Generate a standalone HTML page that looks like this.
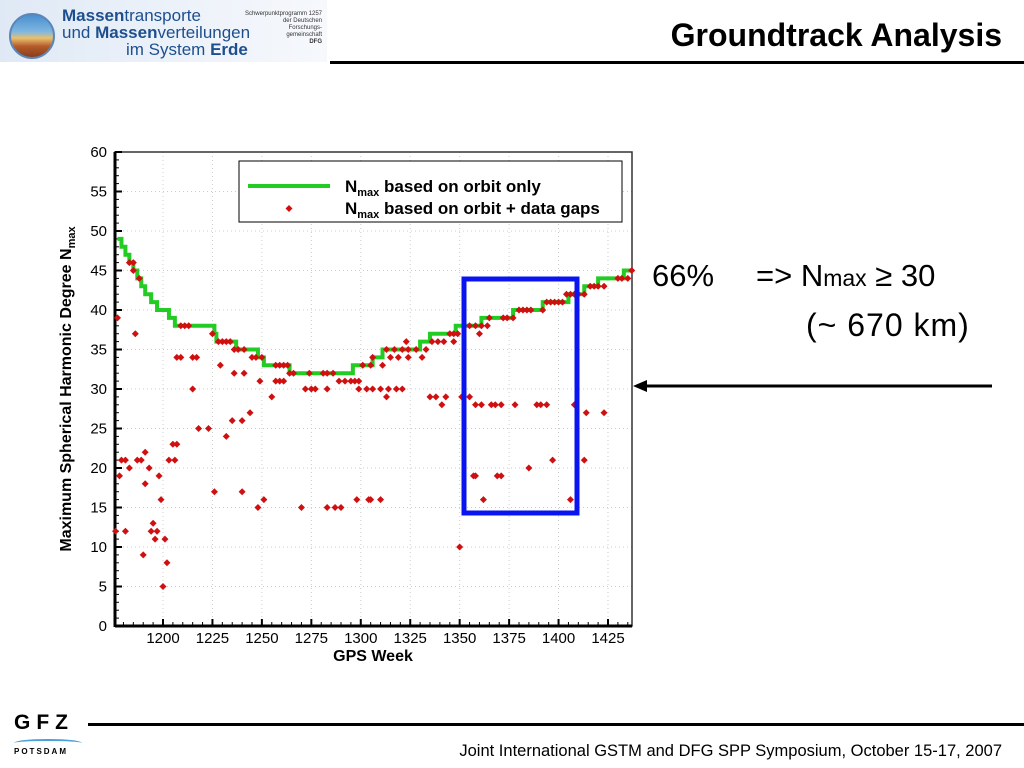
<!DOCTYPE html>
<html><head><meta charset="utf-8">
<style>
html,body{margin:0;padding:0;background:#fff;}
body{width:1024px;height:768px;position:relative;overflow:hidden;font-family:"Liberation Sans",sans-serif;}
.abs{position:absolute;}
</style></head>
<body>
<div class="abs" style="left:0;top:0;width:327px;height:62px;background:linear-gradient(90deg,#dfe9f5,#eef3fa 60%,#f6f8fc);">
  <div class="abs" style="left:9px;top:13px;width:42px;height:42px;border-radius:50%;background:linear-gradient(180deg,#4a8fcf 0%,#7fb7e0 40%,#e8c070 55%,#b35a2a 75%,#8a3e1c 100%);border:2px solid #5b86b8;"></div>
  <div class="abs" style="left:62px;top:7px;font-size:17px;line-height:17px;color:#1d4f8f;white-space:nowrap;">
    <div><b>Massen</b>transporte</div>
    <div>und <b>Massen</b>verteilungen</div>
    <div style="padding-left:64px">im System <b>Erde</b></div>
  </div>
  <div class="abs" style="left:240px;top:11px;width:82px;font-size:6px;line-height:7px;text-align:right;color:#333;">Schwerpunktprogramm 1257<br>der Deutschen<br>Forschungs-<br>gemeinschaft<br><b>DFG</b></div>
</div>
<div class="abs" style="right:22px;top:17px;font-size:32px;font-weight:bold;color:#000;white-space:nowrap;">Groundtrack Analysis</div>
<div class="abs" style="left:330px;top:61px;width:694px;height:3px;background:#000;"></div>

<svg class="abs" id="chart" style="left:0;top:0" width="1024" height="768"></svg>

<div class="abs" style="left:652px;top:258px;font-size:31px;color:#000;white-space:nowrap;">66%</div>
<div class="abs" style="left:756px;top:258px;font-size:31px;color:#000;white-space:nowrap;">=&gt; N<span style="font-size:23px">max</span> ≥ 30</div>
<div class="abs" style="left:806px;top:307px;font-size:32px;color:#000;white-space:nowrap;letter-spacing:1px;">(~ 670 km)</div>

<div class="abs" style="left:14px;top:712px;width:75px;height:50px;">
  <div style="font-size:21px;font-weight:bold;letter-spacing:6px;line-height:22px;">GFZ</div>
  <div style="margin-top:5px;width:68px;height:6px;border-top:2px solid #4aa0d8;border-radius:50% 50% 0 0;"></div>
  <div style="font-size:8px;font-weight:bold;letter-spacing:2px;">POTSDAM</div>
</div>
<div class="abs" style="left:88px;top:723px;width:936px;height:3px;background:#000;"></div>
<div class="abs" style="right:22px;top:742px;font-size:16.5px;color:#000;white-space:nowrap;">Joint International GSTM and DFG SPP Symposium, October 15-17, 2007</div>

<script>
const yTicks=[0,5,10,15,20,25,30,35,40,45,50,55,60];
const xTicks=[1200,1225,1250,1275,1300,1325,1350,1375,1400,1425];
const orbitWeeks=[1177,1179,1181,1183,1185,1187,1189,1191,1194,1197,1203,1206,1226,1227,1237,1248,1251,1264,1296,1306,1311,1330,1335,1348,1361,1377,1392,1405,1413,1420,1433,1437];
const orbitNmax=[49,48,47,46,45,44,43,42,41,40,39,38,37,36,35,34,33,32,33,34,35,36,37,38,39,40,41,42,43,44,45,45];
const gapWeeks=[1177,1186,1183,1185,1185,1188,1209,1211,1213,1225,1228,1230,1232,1234,1236,1238,1241,1245,1247,1250,1229,1236,1241,1257,1259,1261,1263,1257,1259,1261,1264,1266,1274,1281,1283,1286,1272,1275,1277,1283,1289,1292,1295,1297,1299,1301,1306,1299,1303,1255,1249,1207,1209,1215,1217,1215,1244,1235,1240,1232,1218,1223,1205,1207,1203,1206,1179,1181,1187,1189,1191,1183,1193,1178,1191,1198,1199,1226,1240,1248,1251,1270,1283,1287,1290,1298,1304,1176,1181,1195,1194,1197,1196,1201,1190,1202,1200,
1305,1311,1313,1317,1321,1324,1328,1333,1315,1319,1324,1331,1323,1336,1339,1342,1347,1345,1347,1349,1355,1358,1361,1364,1360,1365,1372,1374,1377,1380,1382,1384,1386,1392,1394,1396,1398,1400,1402,1404,1406,1408,1410,1413,1416,1418,1420,1423,1430,1432,1435,1437,
1306,1310,1314,1318,1321,1313,1335,1338,1343,1341,1351,1355,1358,1361,1366,1368,1371,1378,1389,1391,1394,1408,1414,1423,1357,1358,1369,1371,1385,1397,1413,1362,1406,1305,1310,1350];
const gapNmax=[39,37,46,46,45,44,38,38,38,37,36,36,36,36,35,35,35,34,34,34,33,32,32,33,33,33,33,31,31,31,32,32,32,32,32,32,30,30,30,30,31,31,31,31,31,33,34,30,30,29,31,34,34,34,34,30,27,26,26,24,25,25,23,23,21,21,21,21,21,21,22,20,20,19,18,19,16,17,17,15,16,15,15,15,15,16,16,12,12,13,12,12,11,11,9,8,5,
33,33,35,35,35,35,35,35,34,34,34,34,36,36,36,36,36,37,37,37,38,38,38,38,37,39,39,39,39,40,40,40,40,40,41,41,41,41,41,42,42,42,42,42,43,43,43,43,44,44,44,45,
30,30,30,30,30,29,29,29,29,28,29,29,28,28,28,28,28,28,28,28,28,28,27,27,19,19,19,19,20,21,21,16,16,16,16,10];

const svg=document.getElementById('chart');
const NS='http://www.w3.org/2000/svg';
const X0=115,X1=632,Y0=626,Y1=152;
function xs(w){return 163+(w-1200)*(445/225);}
function ys(v){return Y0-(v)*(Y0-Y1)/60;}
function mk(tag,attrs,parent){const e=document.createElementNS(NS,tag);for(const k in attrs)e.setAttribute(k,attrs[k]);(parent||svg).appendChild(e);return e;}

yTicks.forEach(v=>{const l=mk('line',{x1:X0,x2:X1,y1:ys(v),y2:ys(v),stroke:'#ccc','stroke-dasharray':'1,3','stroke-width':1});

});
xTicks.forEach(w=>{const l=mk('line',{x1:xs(w),x2:xs(w),y1:Y1,y2:Y0,stroke:'#ccc','stroke-dasharray':'1,3','stroke-width':1});

});
const fr=mk('rect',{x:X0,y:Y1,width:X1-X0,height:Y0-Y1,fill:'none',stroke:'#333','stroke-width':1.5});


const la=mk('line',{x1:X0,x2:X0,y1:Y1,y2:Y0+1,stroke:'#000','stroke-width':3});


const ba=mk('line',{x1:X0,x2:X1,y1:Y0,y2:Y0,stroke:'#000','stroke-width':3});


for(let v=0;v<=60;v++){const major=v%5===0;mk('line',{x1:X0,x2:X0+(major?7:4),y1:ys(v),y2:ys(v),stroke:'#000','stroke-width':major?2:1});}
yTicks.forEach(v=>{const t=mk('text',{x:107,y:ys(v)+5,'text-anchor':'end','font-size':15,'font-family':'Liberation Sans, sans-serif',fill:'#000'});t.textContent=v;

});
for(let w=1180;w<=1435;w+=5){const major=w%25===0;mk('line',{x1:xs(w),x2:xs(w),y1:Y0,y2:Y0-(major?7:4),stroke:'#000','stroke-width':major?2:1});}
xTicks.forEach(w=>{const t=mk('text',{x:xs(w),y:643,'text-anchor':'middle','font-size':15,'font-family':'Liberation Sans, sans-serif',fill:'#000'});t.textContent=w;

});
const xt=mk('text',{x:373,y:661,'text-anchor':'middle','font-size':16,'font-weight':'bold','font-family':'Liberation Sans, sans-serif'});xt.textContent='GPS Week';


const yt=mk('text',{x:0,y:0,'text-anchor':'middle','font-size':16,'font-weight':'bold','font-family':'Liberation Sans, sans-serif',transform:'translate(71,389) rotate(-90)'});
yt.innerHTML='Maximum Spherical Harmonic Degree N<tspan font-size="11" dy="4">max</tspan>';



let d='';
orbitWeeks.forEach((w,i)=>{const x=xs(w),y=ys(orbitNmax[i]);if(i===0)d='M'+x+','+y;else d+=' H'+x+' V'+y;});
const gl=mk('path',{d:d,fill:'none',stroke:'#22cc22','stroke-width':4});


gapWeeks.forEach((w,i)=>{const x=xs(w),y=ys(gapNmax[i]);const p=mk('polygon',{points:`${x},${y-3.5} ${x+3.5},${y} ${x},${y+3.5} ${x-3.5},${y}`,fill:'#d01010'});

});

const lg=mk('g',{});


mk('rect',{x:239,y:161,width:383,height:61,fill:'#fff',stroke:'#000','stroke-width':1},lg);
mk('line',{x1:248,x2:330,y1:186,y2:186,stroke:'#22cc22','stroke-width':4},lg);
mk('polygon',{points:'289,205 292.5,208.5 289,212 285.5,208.5',fill:'#d01010'},lg);
const l1=mk('text',{x:345,y:192,'font-size':17,'font-weight':'bold','font-family':'Liberation Sans, sans-serif'},lg);
l1.innerHTML='N<tspan font-size="11" dy="4">max</tspan><tspan dy="-4"> based on orbit only</tspan>';


const l2=mk('text',{x:345,y:214,'font-size':17,'font-weight':'bold','font-family':'Liberation Sans, sans-serif'},lg);
l2.innerHTML='N<tspan font-size="11" dy="4">max</tspan><tspan dy="-4"> based on orbit + data gaps</tspan>';



const br=mk('rect',{x:464,y:279,width:113,height:234,fill:'none',stroke:'#0a14f0','stroke-width':5});


const ar=mk('line',{x1:645,x2:992,y1:386,y2:386,stroke:'#000','stroke-width':3});


const ah=mk('polygon',{points:'633,386 647,380 647,392',fill:'#000'});


</script>
</body></html>
